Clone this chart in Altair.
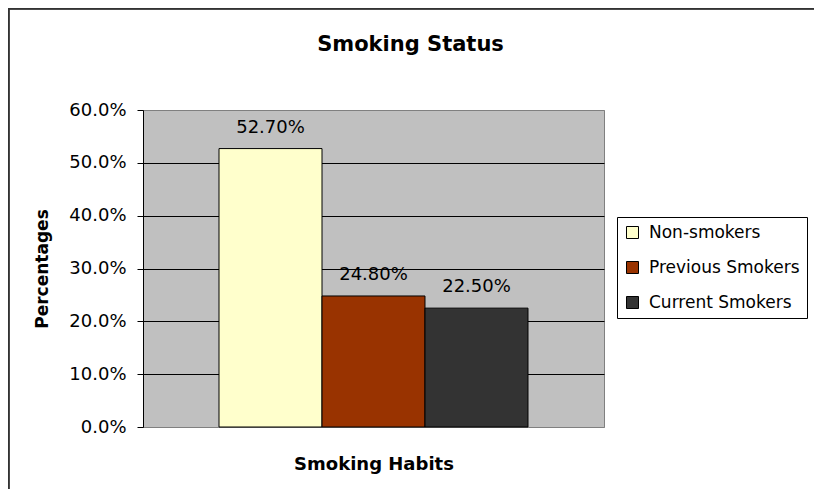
import altair as alt
import pandas as pd

series = ["Non-smokers", "Previous Smokers", "Current Smokers"]
values = [0.527, 0.248, 0.225]
colors = ["#FFFFCC", "#993300", "#333333"]
y_ticks = [0.0, 0.1, 0.2, 0.3, 0.4, 0.5, 0.6]

df = pd.DataFrame({"Series": series, "Value": values})

FONT = "DejaVu Sans"
W, H = 461, 317

x_enc = alt.X(
    "Series:N",
    sort=series,
    scale=alt.Scale(paddingInner=0, paddingOuter=0.738),
    axis=alt.Axis(
        labels=False, ticks=False, domain=False, grid=False,
        title="Smoking Habits", titleFontSize=18, titleFont=FONT,
        titleFontWeight="bold", titleColor="black",
        titleBaseline="alphabetic", titleY=42,
    ),
)
y_enc = alt.Y(
    "Value:Q",
    scale=alt.Scale(domain=[0, 0.6], nice=False),
    axis=alt.Axis(
        values=y_ticks, format=".1%", labelFontSize=18, labelFont=FONT,
        labelColor="black", labelPadding=11, tickSize=6, tickColor="black",
        domainColor="black", grid=True,
        gridColor=alt.condition("datum.value > 0.001 && datum.value < 0.599",
                                alt.value("black"), alt.value("#808080")),
        gridWidth=1,
        title="Percentages", titleFontSize=17, titleFont=FONT,
        titleFontWeight="bold", titleColor="black", titleAngle=270,
        titleBaseline="alphabetic", titleX=-96, titleY=H / 2,
    ),
)

bars = alt.Chart(df).mark_bar(stroke="black", strokeWidth=1).encode(
    x=x_enc,
    y=y_enc,
    color=alt.Color(
        "Series:N",
        sort=series,
        scale=alt.Scale(domain=series, range=colors),
        legend=alt.Legend(
            title=None, orient="none", legendX=474, legendY=107,
            strokeColor="black", fillColor="white", padding=7,
            symbolType="square", symbolSize=144, symbolStrokeColor="black",
            symbolStrokeWidth=1, labelFontSize=17, labelFont=FONT,
            labelColor="black", labelLimit=300, rowPadding=17, labelOffset=8,
        ),
    ),
)

labels = alt.Chart(df).mark_text(
    dy=-16, baseline="alphabetic", fontSize=18, font=FONT, color="black"
).encode(
    x=alt.X("Series:N", sort=series),
    y="Value:Q",
    text=alt.Text("Value:Q", format=".2%"),
)

frame_top = alt.Chart(df).mark_rule(color="#333333", strokeWidth=1.5).encode(
    x=alt.value(-140), x2=alt.value(700), y=alt.value(-101.25)
)
frame_left = alt.Chart(df).mark_rule(color="#333333", strokeWidth=1.5).encode(
    x=alt.value(-134.25), y=alt.value(-102), y2=alt.value(400)
)

chart = alt.layer(frame_top, frame_left, bars, labels).properties(
    width=W,
    height=H,
    autosize=alt.AutoSizeParams(type="none"),
    padding={"left": 135, "top": 102, "right": 210, "bottom": 62},
    title=alt.TitleParams(
        "Smoking Status", fontSize=21, font=FONT, fontWeight="bold",
        color="black", anchor="middle", dx=37, baseline="alphabetic",
        offset=0, dy=65,
    ),
).configure(
    font=FONT, background="white"
).configure_view(
    fill="#C0C0C0", stroke="#808080", strokeWidth=1
)

chart.save("out.html", embed_options={"renderer": "svg", "actions": False})
